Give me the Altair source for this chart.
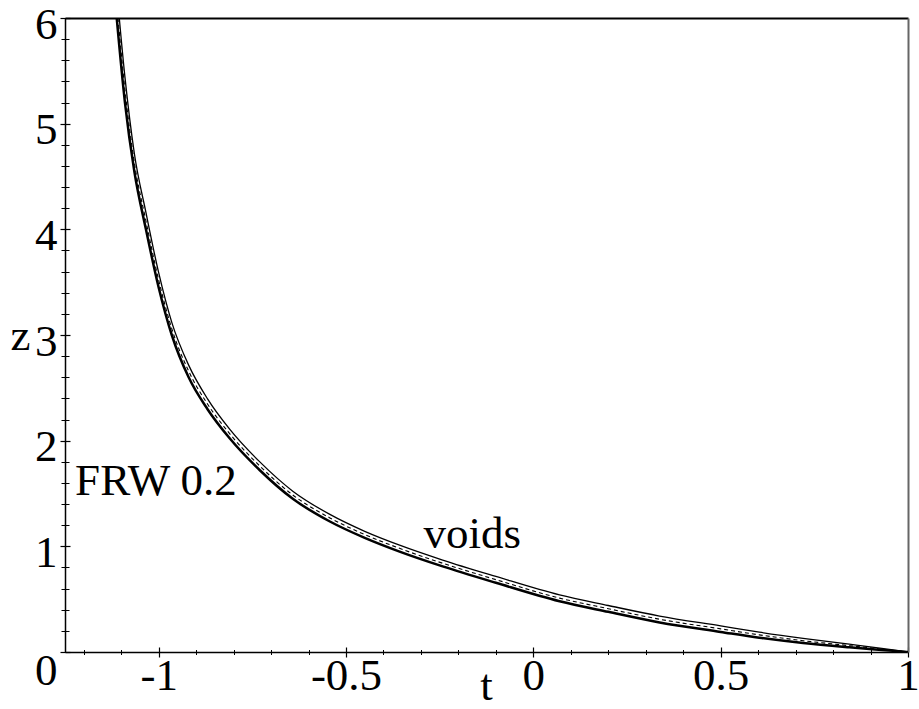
import altair as alt
import pandas as pd

# ---- data ----
t_vals = [-1.112, -1.09, -1.065, -1.034, -1.0, -0.965, -0.92, -0.87, -0.81, -0.73,
          -0.642, -0.543, -0.45, -0.357, -0.242, -0.1, 0.07, 0.2, 0.337, 0.5,
          0.603, 0.72, 0.843, 0.93, 1.0]
z_frw = [6.0, 5.2, 4.55, 4.0, 3.45, 3.0, 2.6, 2.3, 2.02, 1.72,
         1.45, 1.235, 1.08, 0.95, 0.81, 0.655, 0.48, 0.38, 0.28, 0.19,
         0.135, 0.085, 0.045, 0.02, 0.0]
z_mid = [6.135, 5.32, 4.635, 4.08, 3.52, 3.06, 2.658, 2.349, 2.064, 1.76,
         1.486, 1.269, 1.111, 0.981, 0.84, 0.685, 0.51, 0.41, 0.31, 0.219,
         0.162, 0.107, 0.06, 0.027, 0.0]
z_voids = [6.27, 5.44, 4.72, 4.16, 3.59, 3.12, 2.715, 2.398, 2.107, 1.799,
           1.522, 1.302, 1.142, 1.011, 0.87, 0.715, 0.54, 0.44, 0.34, 0.247,
           0.188, 0.129, 0.074, 0.034, 0.0]

x_major = [-1, -0.5, 0, 0.5, 1]
x_minor = [-1.2, -1.1, -0.9, -0.8, -0.7, -0.6, -0.4, -0.3, -0.2, -0.1,
           0.1, 0.2, 0.3, 0.4, 0.6, 0.7, 0.8, 0.9]
y_major = [0, 1, 2, 3, 4, 5, 6]
y_minor = [0.2, 0.4, 0.6, 0.8, 1.2, 1.4, 1.6, 1.8, 2.2, 2.4, 2.6, 2.8,
           3.2, 3.4, 3.6, 3.8, 4.2, 4.4, 4.6, 4.8, 5.2, 5.4, 5.6, 5.8]

ann_text = ["FRW 0.2", "voids"]
ann_t = [-1.223, -0.293]
ann_z = [1.486, 0.984]

df = pd.DataFrame({"t": t_vals, "frw": z_frw, "mid": z_mid, "voids": z_voids})
ann = pd.DataFrame({"label": ann_text, "t": ann_t, "z": ann_z})

FONT = "Liberation Serif"
FS = 45
xs = alt.Scale(domain=[-1.25, 1], nice=False, zero=False)
ys = alt.Scale(domain=[0, 6], nice=False, zero=False)

# main layer: thick solid curve + labels + domains
main = alt.Chart(df).mark_line(color="black", strokeWidth=2.5, clip=True,
                               interpolate="monotone").encode(
    x=alt.X("t:Q", scale=xs, axis=alt.Axis(
        orient="bottom", values=x_major, ticks=False, grid=False,
        domain=True, domainColor="black", domainWidth=1.5,
        labelFont=FONT, labelFontSize=FS, labelColor="black",
        labelPadding=1, labelFlush=False, labelOverlap=False,
        labelExpr="'' + datum.value",
        title="t", titleFont=FONT, titleFontSize=FS, titleFontWeight="normal",
        titleColor="black", titleBaseline="alphabetic", titleAlign="center",
        titleX=421, titleY=47)),
    y=alt.Y("frw:Q", scale=ys, axis=alt.Axis(
        orient="left", values=y_major, ticks=False, grid=False,
        domain=True, domainColor="black", domainWidth=1.5,
        labelFont=FONT, labelFontSize=FS, labelColor="black",
        labelPadding=8, labelFlush=False, labelOverlap=False,
        labelBaseline="middle",
        labelOffset={"condition": {"test": "datum.value == 0", "value": 18}, "value": 6},
        title="z", titleFont=FONT, titleFontSize=FS, titleFontWeight="normal",
        titleColor="black", titleAngle=0, titleBaseline="alphabetic",
        titleAlign="center", titleX=-45, titleY=331)),
)

# upper thin solid curve + minor ticks crossing the axes
upper = alt.Chart(df).mark_line(color="black", strokeWidth=1.3, clip=True,
                                interpolate="monotone").encode(
    x=alt.X("t:Q", scale=xs, axis=alt.Axis(
        orient="bottom", values=x_minor, domain=False, labels=False, grid=False,
        ticks=True, tickSize=5, tickWidth=1, tickColor="black", offset=-2.5,
        title=None)),
    y=alt.Y("voids:Q", scale=ys, axis=alt.Axis(
        orient="left", values=y_minor, domain=False, labels=False, grid=False,
        ticks=True, tickSize=8, tickWidth=1, tickColor="black", offset=-4,
        title=None)),
)

# middle dashed curve + major ticks crossing the axes
mid = alt.Chart(df).mark_line(color="black", strokeWidth=1.1, strokeDash=[4, 3],
                              clip=True, interpolate="monotone").encode(
    x=alt.X("t:Q", scale=xs, axis=alt.Axis(
        orient="bottom", values=x_major, domain=False, labels=False, grid=False,
        ticks=True, tickSize=10, tickWidth=1.2, tickColor="black", offset=-5,
        title=None)),
    y=alt.Y("mid:Q", scale=ys, axis=alt.Axis(
        orient="left", values=y_major, domain=False, labels=False, grid=False,
        ticks=True, tickSize=10, tickWidth=1.2, tickColor="black", offset=-5,
        title=None)),
)

# annotations + frame (top and right borders)
texts = alt.Chart(ann).mark_text(font=FONT, fontSize=FS, color="black",
                                 align="left", baseline="alphabetic").encode(
    x=alt.X("t:Q", scale=xs, axis=alt.Axis(
        orient="top", domain=True, domainColor="black", domainWidth=2,
        labels=False, ticks=False, grid=False, title=None)),
    y=alt.Y("z:Q", scale=ys, axis=alt.Axis(
        orient="right", domain=True, domainColor="#666666", domainWidth=2,
        labels=False, ticks=False, grid=False, title=None)),
    text="label:N",
)

chart = alt.layer(main, upper, mid, texts).resolve_axis(
    x="independent", y="independent"
).resolve_scale(x="shared", y="shared").properties(
    width=843, height=634,
    padding={"left": 65, "top": 18, "right": 11, "bottom": 57},
    autosize=alt.AutoSizeParams(type="none"),
    background="white",
).configure_view(strokeOpacity=0)

chart.save("out.html", embed_options={"renderer": "svg", "actions": False})
